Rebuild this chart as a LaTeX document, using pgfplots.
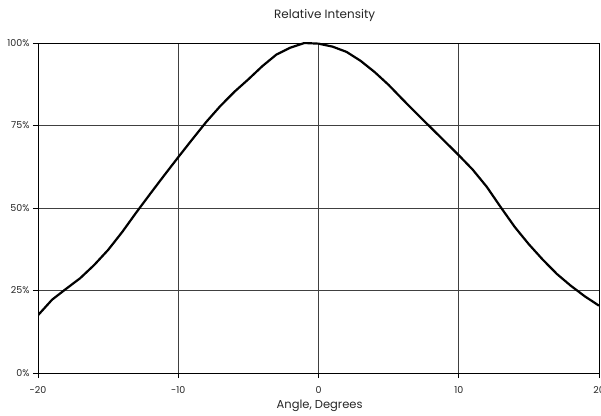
\documentclass[border=0pt]{standalone}
\usepackage{pgfplots}
\pgfplotsset{compat=1.18}
\usepackage{fontspec}
\setmainfont{Poppins}
\pgfplotstableread{
x y
-20 17.5
-19 22.2
-18 25.5
-17 28.7
-16 32.7
-15 37.3
-14 42.7
-13 48.6
-12 54.3
-11 59.9
-10 65.4
-9 70.8
-8 76.1
-7 80.9
-6 85.2
-5 89.0
-4 93.0
-3 96.5
-2 98.6
-1 100.0
0 99.8
1 98.9
2 97.3
3 94.6
4 91.2
5 87.3
6 82.9
7 78.6
8 74.4
9 70.2
10 66.0
11 61.6
12 56.4
13 50.2
14 44.2
15 39.0
16 34.3
17 30.0
18 26.4
19 23.2
20 20.4
}\datatable
\begin{document}
\begin{tikzpicture}[x=1pt,y=1pt]
\begin{axis}[
  at={(38pt,42pt)}, anchor=south west,
  scale only axis, width=561pt, height=330pt,
  xmin=-20, xmax=20, ymin=0, ymax=100,
  xtick={-20,-10,0,10,20},
  ytick={0,25,50,75,100},
  yticklabels={0\%,25\%,50\%,75\%,100\%},
  grid=major,
  major grid style={black!75, line width=0.7pt},
  axis line style={black, line width=0.8pt},
  tick align=outside, tick pos=left,
  major tick length=5pt,
  tick style={black, line width=0.8pt},
  /pgf/number format/assume math mode=true,
  ticklabel style={font=\fontsize{9.5}{11}\selectfont, text=black!85},
  xticklabel style={anchor=center, yshift=-12pt},
  yticklabel style={anchor=east, xshift=0pt},
  title={Relative Intensity},
  title style={font=\fontsize{12}{14}\selectfont, text=black!85, at={(0.511,1)}, anchor=center, yshift=22pt},
  xlabel={Angle, Degrees},
  xlabel style={font=\fontsize{11.5}{13}\selectfont, text=black!85, at={(0.502,0)}, anchor=center, yshift=-33pt},
]
\addplot[black, line width=2.2pt, line join=round, sharp plot] table[x=x,y=y] {\datatable};
\end{axis}
\pgfresetboundingbox
\path[use as bounding box] (0,0) rectangle (601,415);
\end{tikzpicture}
\end{document}
